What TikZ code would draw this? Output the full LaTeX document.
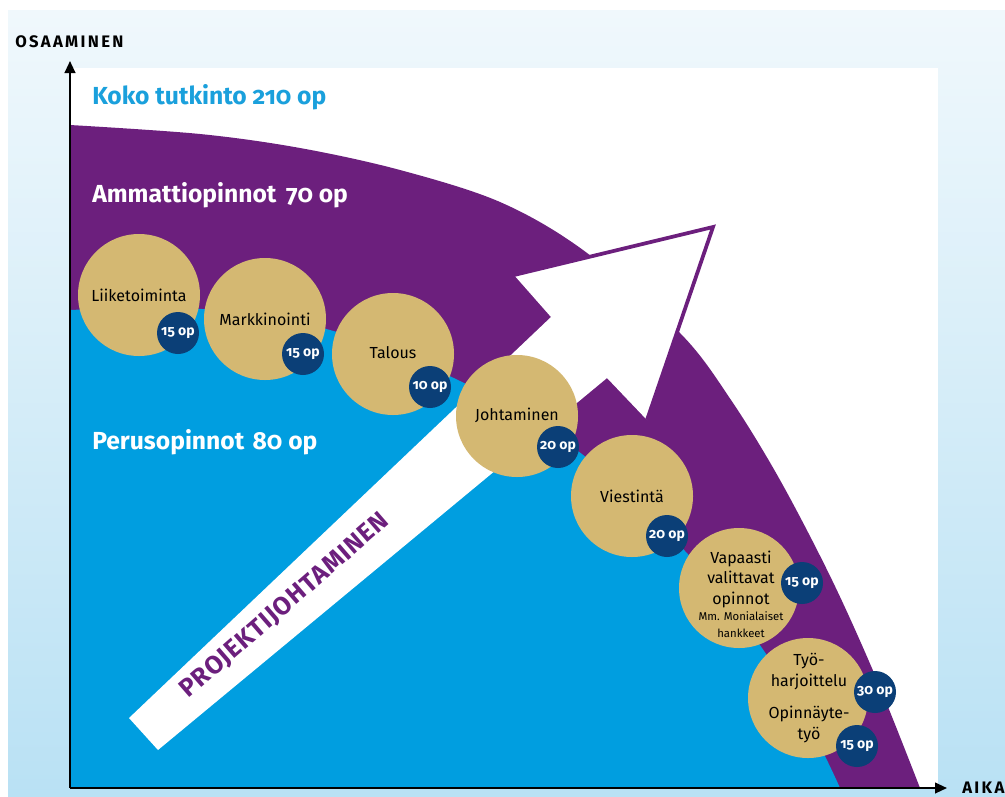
\documentclass[tikz,border=0pt]{standalone}
\usepackage{fontspec}
\setmainfont{Fira Sans}[Numbers=OldStyle,RawFeature=+onum]
\newfontfamily\spacedfont{Fira Sans}[LetterSpace=14]
\newfontfamily\projfont{Fira Sans}[LetterSpace=4]
\usetikzlibrary{arrows.meta}
\definecolor{purp}{HTML}{6C1F7D}
\definecolor{sky}{HTML}{009EE0}
\definecolor{gold}{HTML}{D4B872}
\definecolor{navy}{HTML}{0B3F77}
\definecolor{kokoblue}{HTML}{1AA0DC}
\definecolor{bgtop}{HTML}{F0F8FC}
\definecolor{bgbot}{HTML}{B9E1F4}
\tikzset{
  topic/.style={circle, fill=gold, minimum size=91.5pt, inner sep=0pt, align=center,
    font=\fontsize{12}{15.5}\selectfont, text=black},
  topictext/.style={align=center, inner sep=0pt, font=\fontsize{12}{15.5}\selectfont, text=black},
  badge/.style={circle, fill=navy, minimum size=31.5pt, inner sep=0pt,
    font=\bfseries\fontsize{10.5}{12}\selectfont, text=white},
  heading/.style={anchor=west, font=\bfseries\fontsize{18.5}{22}\selectfont, inner sep=0pt},
  axislabel/.style={anchor=west, font=\spacedfont\bfseries\fontsize{12.5}{14}\selectfont, inner sep=0pt},
  axisline/.style={line width=1.5pt, -{Triangle[length=9pt,width=8pt]}},
}
\begin{document}
\begin{tikzpicture}[x=0.75pt,y=-0.75pt]
\useasboundingbox (0,0) rectangle (1005,796);
\fill[white] (0,0) rectangle (1005,796);
\shade[top color=bgtop,bottom color=bgbot] (8,10) rectangle (1005,796);
\fill[white] (70,68) rectangle (938,788);
% purple band
\fill[purp] (70,788) -- plot[smooth,tension=0.55] coordinates
  {(70,125) (200,134) (300,148) (400,170) (500,202) (583,250) (680,333) (731,400) (780,480) (832,580) (877,680) (920,788)} -- cycle;
% blue region
\fill[sky] (70,788) -- plot[smooth,tension=0.55] coordinates
  {(70,310) (202,309) (330,330) (460,381) (578,451) (685,551) (762,648) (815,737) (840,788)} -- cycle;
% arrow
\coordinate (tailA) at (129,718);
\coordinate (tailB) at (158,750);
\coordinate (innR) at (607,378);
\coordinate (barbR) at (647,420);
\coordinate (tip) at (713,227);
\coordinate (barbL) at (514,275);
\coordinate (innL) at (551,317);
\fill[white] (tailA) -- (innL) -- (barbL) -- (tip) -- (barbR) -- (innR) -- (tailB) -- cycle;
\draw[purp, line width=2.8pt, line join=miter] (barbL) -- (tip) -- (barbR);
\node[rotate=41, text=purp, font=\projfont\bfseries\fontsize{19}{21}\selectfont, inner sep=0pt] (proj) at (285,606) {PROJEKTIJOHTAMINEN};
% headings
\node[heading, text=kokoblue] (koko) at (92,97) {Koko tutkinto 210 op};
\node[heading, text=white] (amm) at (92,195) {Ammattiopinnot\hspace{0.15em} 70 op};
\node[heading, text=white] (perus) at (92,442) {Perusopinnot\hspace{0.1em} 80 op};
% topic circles
\node[topic] (liike) at (139,295) {Liiketoiminta};
\node[topic] (mark) at (265,319) {Markkinointi};
\node[topic] (talous) at (393,354) {\raisebox{3pt}{Talous}};
\node[topic] (joht) at (517,416) {\raisebox{2pt}{Johtaminen}};
\node[topic] (viest) at (632,496) {Viestintä};
\node[topic, minimum size=90pt] (vapaa) at (739,588) {};
\node[topictext] (vapaatext) at (741,594) {Vapaasti\\valittavat\\opinnot\\[-3.5pt]{\fontsize{8.5}{11}\selectfont Mm. Monialaiset}\\[-3pt]{\fontsize{8.5}{11}\selectfont hankkeet}};
\node[topic, minimum size=90pt] (tyo) at (808,698) {};
\node[topictext] (tyotext) at (809,698) {Työ-\\harjoittelu\\[9pt]Opinnäyte-\\työ};
% badges
\node[badge] (b1) at (178,333) {15 op};
\node[badge] (b2) at (303,354) {15 op};
\node[badge] (b3) at (430,387) {10 op};
\node[badge] (b4) at (558,447) {20 op};
\node[badge] (b5) at (667,536) {20 op};
\node[badge] (b6) at (802,583) {15 op};
\node[badge] (b7) at (875,692) {30 op};
\node[badge] (b8) at (857,746) {15 op};
% axes
\coordinate (origin) at (70,788);
\coordinate (ytip) at (70,61);
\coordinate (xtip) at (947,788);
\draw[axisline] (origin) -- (ytip);
\draw[axisline] (origin) -- (xtip);
\node[axislabel] (osa) at (15,42) {OSAAMINEN};
\node[axislabel] (aika) at (962,788) {AIKA};
\end{tikzpicture}
\end{document}
